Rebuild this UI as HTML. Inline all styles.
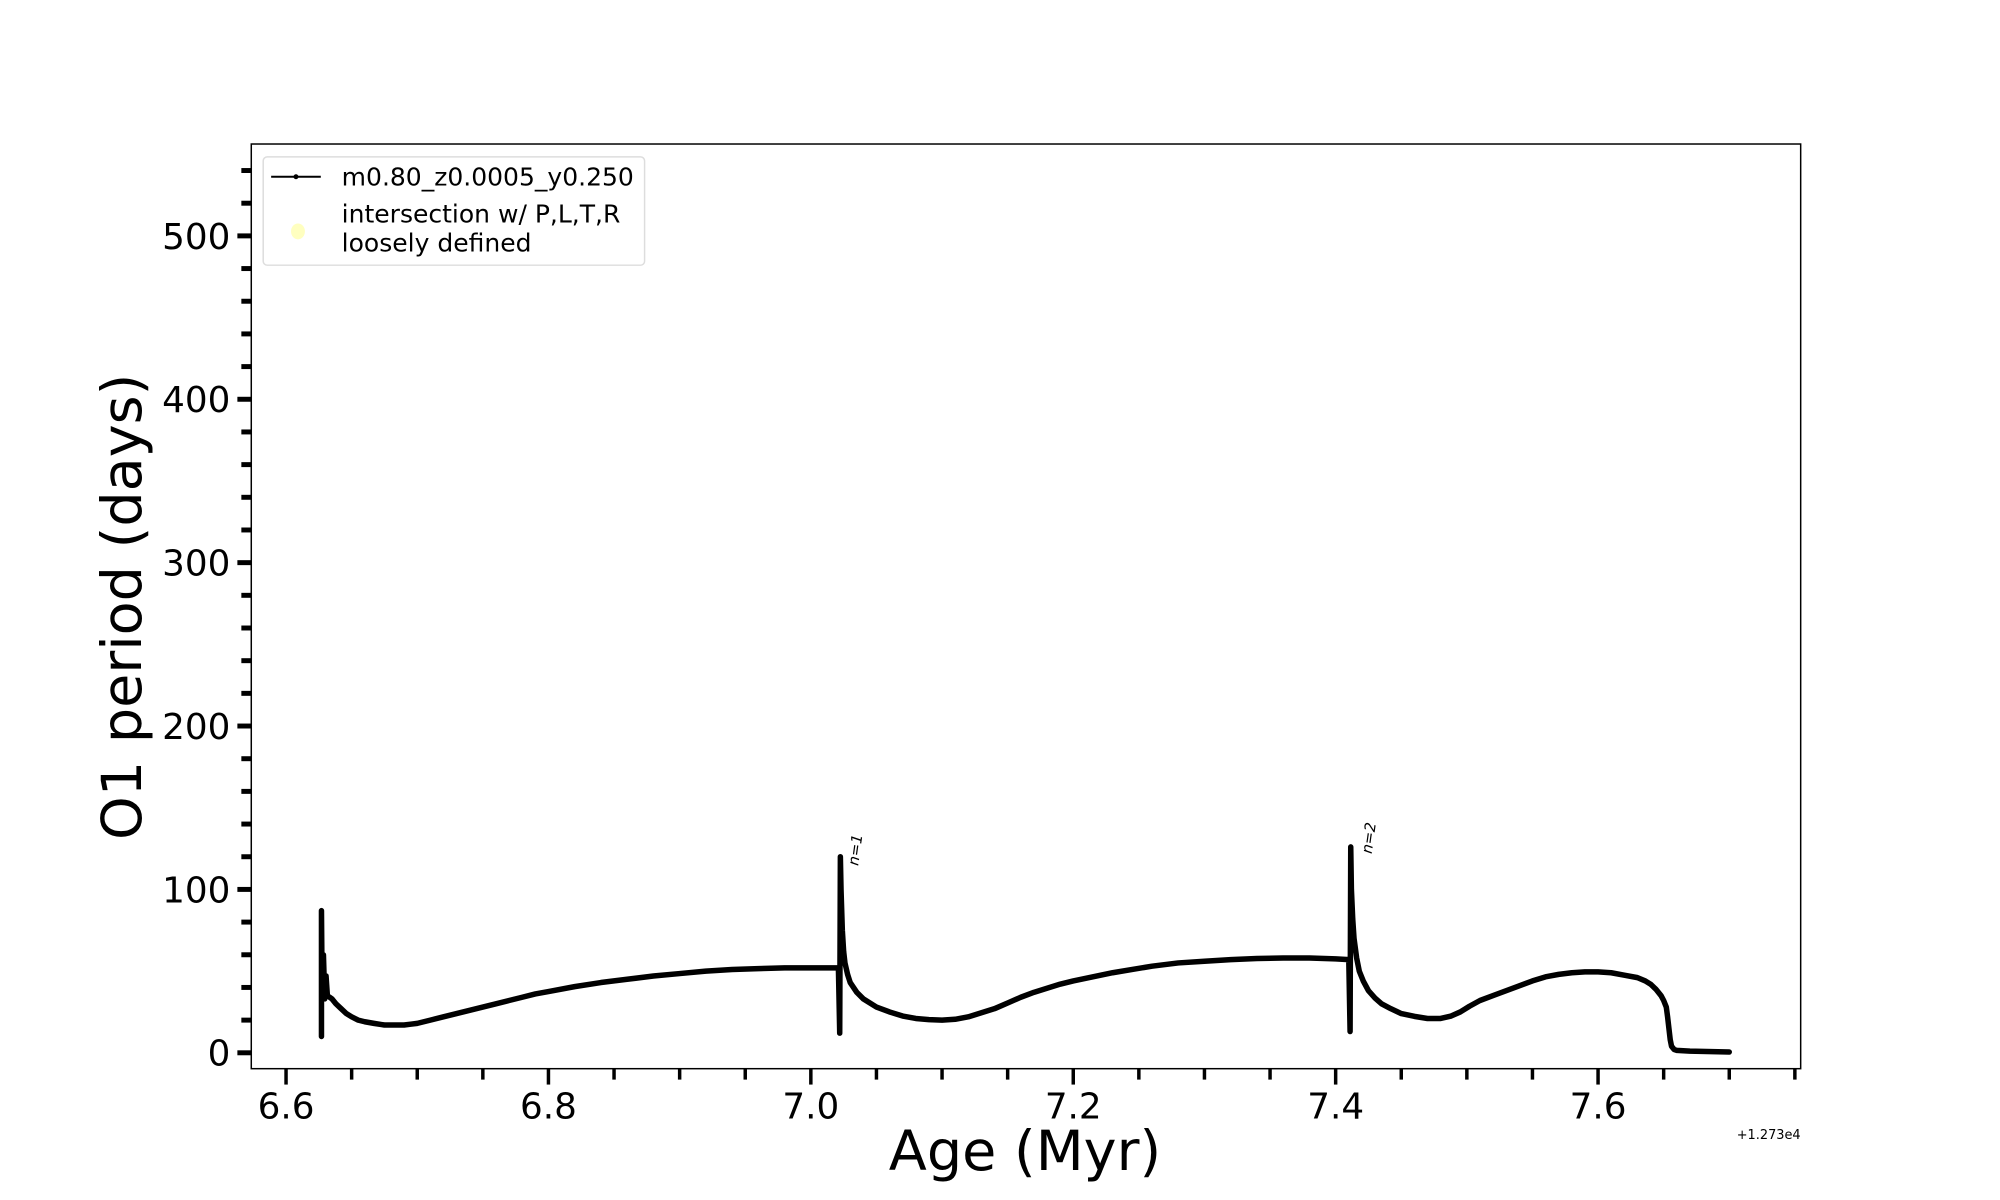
<!DOCTYPE html>
<html><head><meta charset="utf-8"><style>body{margin:0;background:#fff}svg{display:block}text{font-family:"DejaVu Sans","Liberation Sans",sans-serif}</style></head><body>
<svg width="2000" height="1200" xmlns="http://www.w3.org/2000/svg">
<rect width="2000" height="1200" fill="#fff"/>
<g transform="scale(0.9932)">
<g id="ticks" stroke="#000"></g>
<rect x="253" y="145" width="1560" height="931" fill="none" stroke="#000" stroke-width="1.5"/>
<g transform="translate(288,1060) scale(1.321,-1.645)">
<polyline fill="none" stroke="#000" stroke-width="5.5" vector-effect="non-scaling-stroke" stroke-linejoin="round" stroke-linecap="round" points="27,10 27,87 27.5,40 28.5,60 29.5,33 30.5,47 31.5,35 35,33 38,30 42,27 46,24 50,22 55,20 60,19 67,18 75,17 82,17 90,17 95,17.5 100,18 110,20 120,22 130,24 140,26 150,28 160,30 170,32 180,34 190,36 200,37.5 220,40.5 240,43 260,45 280,47 300,48.5 320,50 340,51 360,51.5 380,52 400,52 421,52 422,12 422.5,120 423,100 424,75 425,62 426,55 428,48 430,43 435,37 440,33 450,28 460,25 470,22.5 480,21 490,20.3 500,20 510,20.5 520,22 530,24.5 540,27 550,30.5 560,34 570,37 580,39.5 590,42 600,44 615,46.5 630,49 645,51 660,53 680,55 700,56 720,57 740,57.7 760,58 780,58 800,57.5 810,57 811,13 811.5,126 812,100 813,82 814,70 816,58 818,50 821,44 825,38 830,33.5 835,30 842,27 850,24 860,22.3 870,21 880,21 888,22.5 895,25 902,28.5 910,32 920,35 930,38 940,41 950,44 960,46.5 970,48 980,49 990,49.5 1000,49.5 1010,49 1020,47.5 1030,46 1036,44 1040,42 1044,39 1048,35 1050,32 1052,28 1053,22 1054,15 1055,8 1056,4 1058,2 1060,1.5 1070,1 1100,0.5"/>
</g>
<text transform="translate(864,872) rotate(-82)" font-size="15" font-style="italic">n=1</text>
<text transform="translate(1381,860) rotate(-82)" font-size="15" font-style="italic">n=2</text>
<g font-size="36" text-anchor="end" id="yl"></g>
<g font-size="36" text-anchor="middle" id="xl"></g>
<text x="1813" y="1147" font-size="13" text-anchor="end">+1.273e4</text>
<text x="1032" y="1178" font-size="56" text-anchor="middle">Age (Myr)</text>
<text transform="translate(142,611) rotate(-90)" font-size="56" text-anchor="middle">O1 period (days)</text>
<rect x="265" y="158" width="384" height="109" rx="4" fill="#fff" stroke="#ddd" stroke-width="1.5"/>
<line x1="273" y1="178" x2="323" y2="178" stroke="#000" stroke-width="2"/>
<circle cx="298" cy="178" r="2.5" fill="#000"/>
<text x="344" y="187" font-size="25.2">m0.80_z0.0005_y0.250</text>
<ellipse cx="300" cy="233" rx="7" ry="8" fill="#ffffc0"/>
<text x="344" y="224" font-size="25.2">intersection w/ P,L,T,R</text>
<text x="344" y="253" font-size="25.2">loosely defined</text>
</g>
</svg>
<script>
var g=document.getElementById('ticks'),s='';
for(var P=0;P<=540;P+=20){var y=1060-P*1.645,maj=P%100==0;s+='<line x1="'+(253-(maj?14:10))+'" y1="'+y+'" x2="253" y2="'+y+'" stroke-width="5"/>';
if(maj)document.getElementById('yl').innerHTML+='<text x="232" y="'+(y+13)+'">'+P+'</text>';}
for(var k=0;k<=23;k++){var t=6.6+k*0.05,x=288+(t-6.6)*1321,maj=k%4==0;s+='<line x1="'+x+'" y1="1076" x2="'+x+'" y2="'+(1076+(maj?16:11))+'" stroke-width="3.5"/>';
if(maj)document.getElementById('xl').innerHTML+='<text x="'+x+'" y="1126">'+t.toFixed(1)+'</text>';}
g.innerHTML=s;
</script>
</body></html>
